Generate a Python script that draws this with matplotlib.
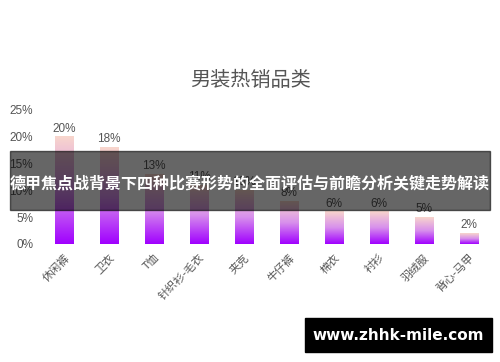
import numpy as np
import matplotlib.pyplot as plt
from matplotlib.colors import LinearSegmentedColormap

plt.rcParams['font.family'] = ['Liberation Sans', 'Noto Sans CJK SC', 'DejaVu Sans']

categories = ["休闲裤", "卫衣", "T恤", "针织衫-毛衣", "夹克", "牛仔裤", "棉衣", "衬衫", "羽绒服", "背心-马甲"]
values = [20, 18, 13, 11, 10, 8, 6, 6, 5, 2]
yticks = [0, 5, 10, 15, 20, 25]

fig = plt.figure(figsize=(5, 3.62), dpi=100)
ax = fig.add_axes([41.5 / 500, 1 - 244 / 362, 450 / 500, 134 / 362])

cmap = LinearSegmentedColormap.from_list("g", ["#a000ff", "#d890ec", "#f8d6cc"])
grad = np.linspace(0, 1, 256).reshape(-1, 1)
w = 0.42
for i, v in enumerate(values):
    ax.imshow(grad, cmap=cmap, origin="lower", aspect="auto",
              extent=(i - w / 2, i + w / 2, 0, v), zorder=2)
    ax.text(i, v + 0.4, f"{v}%", ha="center", va="bottom", fontsize=8.5, color="#555555")

ax.set_xlim(-0.5, len(values) - 0.5)
ax.set_ylim(0, 25)
ax.set_yticks(yticks)
ax.set_yticklabels([f"{t}%" for t in yticks], fontsize=8.5, color="#555555")
ax.set_xticks(range(len(categories)))
ax.set_xticklabels(categories, rotation=45, ha="right", rotation_mode="anchor",
                   fontsize=8, color="#555555", family=['Noto Sans CJK SC', 'DejaVu Sans'])
ax.tick_params(length=0, pad=6)
for s in ax.spines.values():
    s.set_visible(False)

fig.text(0.5, 1 - 80 / 362, "男装热销品类", ha="center", va="center", fontsize=14.5,
         color="#555555", fontweight="light", family=['Noto Sans CJK SC', 'DejaVu Sans'])

# banner
fig.patches.append(plt.Rectangle((10 / 500, 1 - 210 / 362), 480 / 500, 59 / 362,
                                 transform=fig.transFigure, color="black", alpha=0.6, zorder=5))
fig.text(0.5, 1 - 183 / 362, "德甲焦点战背景下四种比赛形势的全面评估与前瞻分析关键走势解读",
         ha="center", va="center", fontsize=11.5, color="white", fontweight="bold", zorder=6,
         family=['Noto Sans CJK SC', 'DejaVu Sans'])

# watermark
fig.patches.append(plt.Rectangle((305 / 500, 1 - 352 / 362), 187 / 500, 34 / 362,
                                 transform=fig.transFigure, color="black", zorder=5))
fig.text(398 / 500, 1 - 335 / 362, "www.zhhk-mile.com", ha="center", va="center",
         fontsize=11, color="white", fontweight="bold", zorder=6, family="DejaVu Sans")

fig.savefig("out.png", dpi=100)
